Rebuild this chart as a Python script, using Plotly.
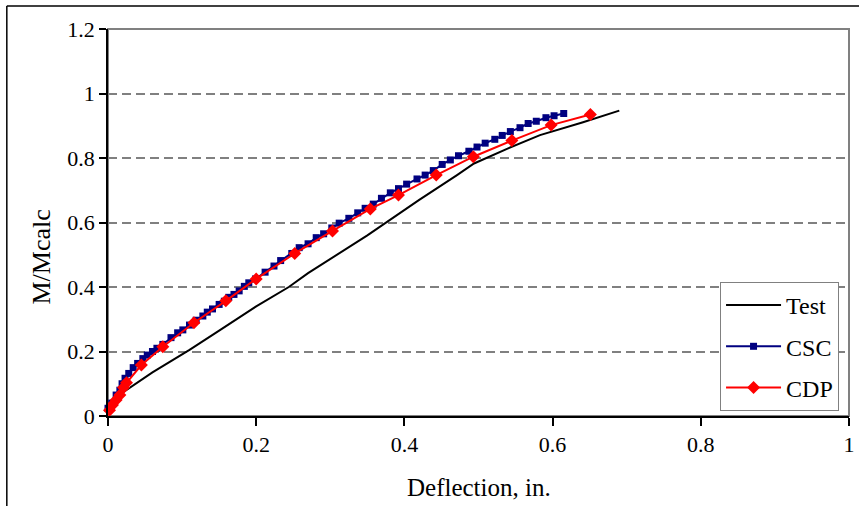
import plotly.graph_objects as go

# Moment ratio vs. deflection: test record and two analytical predictions
test_x = [0.000, 0.018, 0.060, 0.110, 0.150, 0.200, 0.244, 0.270, 0.350, 0.420, 0.471, 0.494, 0.540, 0.583, 0.640, 0.690]
test_y = [0.020, 0.070, 0.135, 0.205, 0.265, 0.340, 0.400, 0.443, 0.560, 0.670, 0.747, 0.783, 0.830, 0.871, 0.910, 0.947]

csc_x = [0.000, 0.005, 0.011, 0.016, 0.019, 0.023, 0.028, 0.034, 0.040, 0.047, 0.053, 0.060,
         0.066, 0.074, 0.085, 0.094, 0.101, 0.110, 0.119, 0.128, 0.134, 0.141, 0.150, 0.157,
         0.163, 0.170, 0.177, 0.184, 0.190, 0.199, 0.212, 0.224, 0.233, 0.248, 0.258, 0.270,
         0.281, 0.291, 0.302, 0.312, 0.325, 0.337, 0.347, 0.358, 0.369, 0.381, 0.392, 0.403,
         0.417, 0.428, 0.439, 0.451, 0.462, 0.473, 0.487, 0.498, 0.509, 0.522, 0.532, 0.543,
         0.556, 0.567, 0.578, 0.591, 0.602, 0.615]
csc_y = [0.024, 0.040, 0.065, 0.080, 0.100, 0.117, 0.132, 0.150, 0.163, 0.178, 0.189, 0.200,
         0.210, 0.222, 0.243, 0.258, 0.267, 0.282, 0.297, 0.310, 0.322, 0.332, 0.346, 0.356,
         0.368, 0.377, 0.388, 0.402, 0.413, 0.425, 0.446, 0.465, 0.482, 0.504, 0.522, 0.534,
         0.553, 0.565, 0.583, 0.598, 0.613, 0.630, 0.644, 0.657, 0.675, 0.692, 0.705, 0.719,
         0.735, 0.747, 0.761, 0.780, 0.794, 0.807, 0.821, 0.834, 0.846, 0.858, 0.870, 0.882,
         0.894, 0.907, 0.914, 0.925, 0.931, 0.938]

cdp_x = [0.002, 0.006, 0.011, 0.016, 0.021, 0.025, 0.045, 0.074, 0.116, 0.159, 0.200,
         0.252, 0.303, 0.354, 0.392, 0.443, 0.493, 0.545, 0.598, 0.651]
cdp_y = [0.018, 0.034, 0.050, 0.065, 0.088, 0.103, 0.158, 0.215, 0.289, 0.357, 0.425,
         0.504, 0.574, 0.642, 0.685, 0.747, 0.804, 0.854, 0.902, 0.935]

x_ticks = [0, 0.2, 0.4, 0.6, 0.8, 1]
y_ticks = [0, 0.2, 0.4, 0.6, 0.8, 1, 1.2]

FONT = "Liberation Serif"
tick_font = dict(family=FONT, size=22, color="black")

fig = go.Figure()
fig.add_trace(go.Scatter(x=test_x, y=test_y, name="Test", mode="lines",
                         line=dict(color="black", width=2), legendgroup="a", cliponaxis=False))
fig.add_trace(go.Scatter(x=csc_x, y=csc_y, name="CSC", mode="lines+markers",
                         line=dict(color="#000080", width=2),
                         marker=dict(symbol="square", size=7, color="#000080"),
                         legendgroup="b", cliponaxis=False))
fig.add_trace(go.Scatter(x=cdp_x, y=cdp_y, name="CDP", mode="lines+markers",
                         line=dict(color="#FF0000", width=2),
                         marker=dict(symbol="diamond", size=10, color="#FF0000"),
                         legendgroup="c", cliponaxis=False))

# Plot-area frame: grey on top and right, black axes drawn over it
fig.add_shape(type="rect", xref="paper", yref="paper", x0=0, x1=1, y0=0, y1=1,
              line=dict(color="#808080", width=2), layer="below")
# Outer chart frame (left and top edges)
fig.add_shape(type="line", xref="paper", yref="paper", x0=-102 / 747, x1=1.2, y0=410 / 387, y1=410 / 387,
              line=dict(color="black", width=1.5))
fig.add_shape(type="line", xref="paper", yref="paper", x0=-102 / 747, x1=-102 / 747, y0=-0.3, y1=410 / 387,
              line=dict(color="black", width=1.5))

fig.add_annotation(text="M/Mcalc", xref="paper", yref="paper", x=-68 / 747, y=159 / 387,
                   textangle=-90, showarrow=False, font=dict(family=FONT, size=26, color="black"),
                   xanchor="center", yanchor="middle")
fig.add_annotation(text="Deflection, in.", xref="paper", yref="paper", x=0.5, y=-71 / 387,
                   showarrow=False, font=dict(family=FONT, size=25, color="black"),
                   xanchor="center", yanchor="middle")

fig.update_layout(
    width=859, height=506,
    margin=dict(l=108, r=4, t=29, b=90),
    paper_bgcolor="white", plot_bgcolor="white",
    font=dict(family=FONT, size=22, color="black"),
    showlegend=True,
    legend=dict(x=617 / 747, y=134 / 387, xanchor="left", yanchor="top",
                bgcolor="white", bordercolor="#808080", borderwidth=1,
                font=dict(family=FONT, size=24, color="black"),
                tracegroupgap=7, itemwidth=55),
)
fig.update_xaxes(range=[0, 1], tickvals=x_ticks, showgrid=False, zeroline=False,
                 showline=True, linecolor="black", linewidth=2, tickfont=tick_font,
                 ticklabeloverflow="allow",
                 ticks="outside", ticklen=8, tickcolor="black", tickwidth=1.5)
fig.update_yaxes(range=[0, 1.2], tickvals=y_ticks, showgrid=True, gridcolor="#808080",
                 griddash="9px,5px", gridwidth=1.5, zeroline=False, tickfont=tick_font,
                 showline=True, linecolor="black", linewidth=1.5,
                 ticks="outside", ticklen=7, tickcolor="black", tickwidth=1.5)

fig.write_html("out.html")
